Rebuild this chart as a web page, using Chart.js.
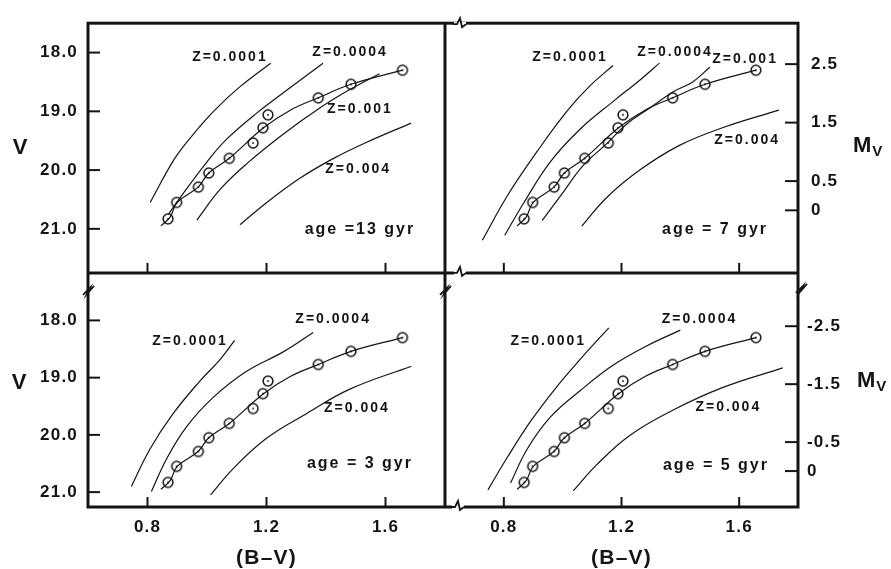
<!DOCTYPE html>
<html>
<head>
<meta charset="utf-8">
<style>
html,body{margin:0;padding:0;background:#fff}
#c{display:block}
</style>
<script src="https://cdn.jsdelivr.net/npm/chart.js@4/dist/chart.umd.min.js"></script>
</head>
<body>
<canvas id="c" width="891" height="569"></canvas>
<script>
// tick values
const bvTicks=[0.8,1.2,1.6];
const vTicks=[18,19,20,21];
const mvTopTicks=[2.5,1.5,0.5,0];
const mvTopLabels=['2.5','1.5','0.5','0'];
const mvBotTicks=[-2.5,-1.5,-0.5,0];
const mvBotLabels=['-2.5','-1.5','-0.5','0'];

// observed giant branch (same in every panel)
const starBV=[0.869,0.898,0.971,1.006,1.075,1.155,1.188,1.205,1.374,1.484,1.657];
const starV=[20.83,20.55,20.29,20.05,19.80,19.54,19.28,19.06,18.77,18.54,18.30];
// mean ridge line drawn through the stars
const ridgeBV=[0.845,0.876,0.90,0.97,1.006,1.075,1.19,1.28,1.374,1.484,1.657];
const ridgeV=[20.95,20.80,20.55,20.29,20.05,19.80,19.28,18.98,18.77,18.54,18.30];

// isochrones, [B-V, V]
const iso13_z0001=[[0.809,20.55],[0.888,19.83],[0.944,19.45],[1.022,19.0],[1.111,18.58],[1.214,18.18]];
const iso13_z0004=[[0.871,20.75],[0.899,20.545],[1.0,19.86],[1.067,19.47],[1.167,19.03],[1.279,18.60],[1.39,18.18]];
const iso13_z001=[[0.966,20.85],[1.044,20.33],[1.134,19.89],[1.256,19.39],[1.379,18.945],[1.48,18.63],[1.58,18.36]];
const iso13_z004=[[1.111,20.93],[1.20,20.555],[1.312,20.14],[1.424,19.805],[1.535,19.53],[1.686,19.2]];

const iso7_z0001=[[0.727,21.195],[0.811,20.445],[0.915,19.67],[1.014,19.0],[1.09,18.58],[1.171,18.22]];
const iso7_z0004=[[0.803,21.11],[0.868,20.555],[0.958,19.86],[1.059,19.305],[1.172,18.83],[1.262,18.47],[1.329,18.18]];
const iso7_z001=[[0.930,20.86],[0.992,20.445],[1.07,19.92],[1.149,19.555],[1.217,19.22],[1.296,18.945],[1.375,18.67],[1.442,18.5],[1.50,18.25]];
const iso7_z004=[[1.065,20.955],[1.149,20.47],[1.262,20.0],[1.397,19.58],[1.543,19.28],[1.735,18.98]];

const iso3_z0001=[[0.746,20.90],[0.808,20.25],[0.886,19.63],[0.976,19.06],[1.043,18.69],[1.093,18.35]];
const iso3_z0004=[[0.813,20.99],[0.864,20.42],[0.931,19.86],[1.02,19.35],[1.133,18.89],[1.256,18.55],[1.357,18.21]];
const iso3_z004=[[1.012,21.05],[1.088,20.59],[1.20,20.06],[1.334,19.63],[1.48,19.20],[1.687,18.80]];

const iso5_z0001=[[0.746,20.96],[0.811,20.40],[0.89,19.77],[0.975,19.19],[1.063,18.66],[1.157,18.13]];
const iso5_z0004=[[0.823,20.84],[0.879,20.25],[0.958,19.69],[1.059,19.23],[1.172,18.78],[1.284,18.45],[1.40,18.17]];
const iso5_z004=[[1.036,20.98],[1.116,20.52],[1.228,20.01],[1.374,19.57],[1.543,19.175],[1.748,18.83]];

// curve labels: text, B-V, V
const notes13=[['Z=0.0001',1.077,18.08],['Z=0.0004',1.481,18.0],['Z=0.001',1.514,18.96],['Z=0.004',1.508,19.99]];
const notes7=[['Z=0.0001',1.025,18.08],['Z=0.0004',1.382,18.0],['Z=0.001',1.62,18.11],['Z=0.004',1.627,19.49]];
const notes3=[['Z=0.0001',0.943,18.36],['Z=0.0004',1.424,17.97],['Z=0.004',1.504,19.53]];
const notes5=[['Z=0.0001',0.951,18.36],['Z=0.0004',1.465,17.98],['Z=0.004',1.563,19.52]];
const ages=[['age =13 gyr',1.514,21.02],['age = 7 gyr',1.518,21.02],['age = 3 gyr',1.514,20.51],['age = 5 gyr',1.521,20.53]];

const ink='#141414';
const family='"Liberation Sans", Arial, Helvetica, sans-serif';

const panels=[
  {x:'x1',y:'yTop',curves:[iso13_z0001,iso13_z0004,iso13_z001,iso13_z004],notes:notes13,age:ages[0]},
  {x:'x2',y:'yTop',curves:[iso7_z0001,iso7_z0004,iso7_z001,iso7_z004],notes:notes7,age:ages[1]},
  {x:'x1',y:'yBot',curves:[iso3_z0001,iso3_z0004,iso3_z004],notes:notes3,age:ages[2]},
  {x:'x2',y:'yBot',curves:[iso5_z0001,iso5_z0004,iso5_z004],notes:notes5,age:ages[3]}
];

function ring(){
  const c=document.createElement('canvas');c.width=14;c.height=14;
  const g=c.getContext('2d');
  g.strokeStyle=ink;g.lineWidth=1.5;
  g.beginPath();g.arc(7,7,4.9,0,Math.PI*2);g.stroke();
  g.fillStyle=ink;g.beginPath();g.arc(7,7,0.9,0,Math.PI*2);g.fill();
  return c;
}
const ringImg=ring();

const datasets=[];
for(const p of panels){
  for(const c of p.curves){
    datasets.push({data:c.map(([x,y])=>({x,y})),xAxisID:p.x,yAxisID:p.y,showLine:true,
      borderColor:ink,borderWidth:1.2,pointRadius:0,tension:0.4});
  }
  datasets.push({data:ridgeBV.map((x,i)=>({x,y:ridgeV[i]})),xAxisID:p.x,yAxisID:p.y,showLine:true,
    borderColor:ink,borderWidth:1.2,pointRadius:0,tension:0.4});
  datasets.push({data:starBV.map((x,i)=>({x,y:starV[i]})),xAxisID:p.x,yAxisID:p.y,showLine:false,
    pointStyle:ringImg,pointRadius:6});
}

const tickFont={family,size:17,weight:'bold'};
const noGrid={display:false,drawTicks:false};
function setTicks(arr){return s=>{s.ticks=arr.map(v=>({value:v}));};}

function xAxis(w){
  return {type:'linear',position:'bottom',stack:'bv',stackWeight:w,min:0.6,max:1.8,weight:w===357?0:1,
    afterBuildTicks:setTicks(bvTicks),afterFit:s=>{s.height=62;},
    grid:noGrid,border:{display:false},
    ticks:{padding:10,color:ink,font:tickFont,autoSkip:false,maxRotation:0,callback:v=>v.toFixed(1)},
    title:{display:true,text:'(B–V)',color:ink,font:{family,size:21,weight:'bold',lineHeight:1},padding:{top:0,bottom:0}}};
}
function vAxis(w,min,max,wt){
  return {type:'linear',position:'left',stack:'v',stackWeight:w,min,max,reverse:true,weight:wt,
    afterBuildTicks:setTicks(vTicks),afterFit:s=>{s.width=88;},
    grid:noGrid,border:{display:false},
    ticks:{padding:10,color:ink,font:tickFont,autoSkip:false,callback:v=>v.toFixed(1)}};
}
function mAxis(w,min,max,rev,vals,labels,wt,pad){
  return {type:'linear',position:'right',stack:'m',stackWeight:w,min,max,reverse:rev,weight:wt,
    afterBuildTicks:setTicks(vals),afterFit:s=>{s.width=93;},
    grid:noGrid,border:{display:false},
    ticks:{padding:pad,color:ink,font:tickFont,autoSkip:false,callback:(v,i)=>labels[i]}};
}

const spacing={id:'spacing',
  beforeUpdate(c){c.ctx.letterSpacing='1.2px';},
  beforeDraw(c){c.ctx.letterSpacing='1.2px';}};

const decor={id:'decor',afterDraw(chart){
  const {ctx,chartArea:a,scales:s}=chart;
  const seg=(x1,y1,x2,y2)=>{ctx.beginPath();ctx.moveTo(x1,y1);ctx.lineTo(x2,y2);ctx.stroke();};
  ctx.save();
  ctx.strokeStyle=ink;ctx.fillStyle=ink;
  // frame and dividers
  ctx.lineWidth=3;
  ctx.strokeRect(a.left,a.top,a.right-a.left,a.bottom-a.top);
  const midY=s.yTop.bottom,midX=s.x1.right;
  seg(a.left,midY,a.right,midY);
  seg(midX,a.top,midX,a.bottom);
  // inward ticks
  ctx.lineWidth=2;
  for(const v of vTicks){
    for(const k of ['yTop','yBot']){const y=s[k].getPixelForValue(v);seg(a.left,y,a.left+12,y);}
  }
  for(const v of mvTopTicks){const y=s.mTop.getPixelForValue(v);seg(a.right-13,y,a.right,y);}
  for(const v of mvBotTicks){const y=s.mBot.getPixelForValue(v);seg(a.right-13,y,a.right,y);}
  for(const v of bvTicks){
    for(const xk of ['x1','x2']){
      const x=s[xk].getPixelForValue(v);
      for(const yk of ['yTop','yBot']){const yb=s[yk].bottom;seg(x,yb,x,yb-10);}
    }
  }
  // axis breaks
  ctx.lineWidth=1.8;
  const hz=(x,y)=>{ctx.clearRect(x-5,y-2,12,4);ctx.beginPath();ctx.moveTo(x-6,y);ctx.lineTo(x-2,y);ctx.lineTo(x+1,y-6);ctx.lineTo(x+3,y+3);ctx.lineTo(x+7,y);ctx.stroke();};
  const vz=(x,y)=>{ctx.beginPath();ctx.moveTo(x-5,y+6);ctx.lineTo(x+2,y-1);ctx.lineTo(x-1,y+5);ctx.lineTo(x+6,y-3);ctx.stroke();};
  hz(midX+14,a.top+1);hz(midX+14,midY);hz(midX+12,a.bottom);
  vz(a.left,midY+16);vz(midX,midY+16);vz(a.right+3,midY+14);
  // axis names
  ctx.letterSpacing='0px';
  ctx.textAlign='center';ctx.textBaseline='middle';
  ctx.font='bold 22px '+family;
  ctx.fillText('V',20,s.yTop.getPixelForValue(19.63));
  ctx.fillText('V',19,s.yBot.getPixelForValue(19.1));
  const mv=(x,y)=>{
    ctx.font='bold 22px '+family;ctx.textAlign='left';ctx.fillText('M',x,y);
    const w=ctx.measureText('M').width;
    ctx.font='bold 15px '+family;ctx.fillText('V',x+w+1,y+6);
  };
  mv(a.right+55,s.mTop.getPixelForValue(1.1));
  mv(a.right+59,s.mBot.getPixelForValue(-1.55));
  // curve labels
  ctx.textAlign='center';
  for(const p of panels){
    ctx.font='bold 14px '+family;ctx.letterSpacing='2px';
    for(const [t,bv,v] of p.notes){ctx.fillText(t,s[p.x].getPixelForValue(bv),s[p.y].getPixelForValue(v));}
    ctx.font='bold 16px '+family;ctx.letterSpacing='2px';
    const [t,bv,v]=p.age;
    ctx.fillText(t,s[p.x].getPixelForValue(bv),s[p.y].getPixelForValue(v));
  }
  ctx.restore();
}};

Chart.defaults.font.family=family;
Chart.defaults.color=ink;

new Chart(document.getElementById('c'),{
  type:'scatter',
  data:{datasets},
  options:{
    responsive:false,animation:false,events:[],
    layout:{padding:{top:10,left:0,right:0,bottom:0}},
    plugins:{legend:{display:false},tooltip:{enabled:false}},
    scales:{
      x1:xAxis(357),
      x2:xAxis(353),
      yTop:vAxis(256,17.5,21.75,1),
      yBot:vAxis(240,17.17,21.26,0),
      mTop:mAxis(256,-1.07,3.2,false,mvTopTicks,mvTopLabels,0,13),
      mBot:mAxis(240,-3.42,0.62,true,mvBotTicks,mvBotLabels,1,9)
    }
  },
  plugins:[spacing,decor]
});
</script>
</body>
</html>
